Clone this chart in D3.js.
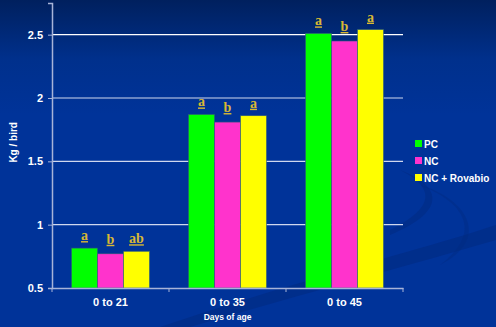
<!DOCTYPE html>
<html>
<head>
<meta charset="utf-8">
<script src="https://cdn.jsdelivr.net/npm/d3@7"></script>
<style>
  body { margin: 0; background: #003399; }
  svg { display: block; }
</style>
</head>
<body>
<div id="chart"></div>
<script>
// data
var periods = ["0 to 21", "0 to 35", "0 to 45"];
var treatments = ["PC", "NC", "NC + Rovabio"];
var pcValues = [0.815, 1.87, 2.51];
var ncValues = [0.77, 1.81, 2.45];
var rovabioValues = [0.79, 1.86, 2.54];
var letters = [["a", "b", "ab"], ["a", "b", "a"], ["a", "b", "a"]];
var yTicks = [0.5, 1, 1.5, 2, 2.5];

var colors = ["#00ff00", "#ff33cc", "#ffff00"];

var W = 496, H = 327;
var margin = {top: 3, left: 52, right: 93, bottom: 39};
var width = W - margin.left - margin.right,
    height = H - margin.top - margin.bottom;

var svg = d3.select("#chart").append("svg")
    .attr("width", W)
    .attr("height", H);

// background
var defs = svg.append("defs");
var grad = defs.append("linearGradient")
    .attr("id", "bg").attr("x1", 0).attr("y1", 0).attr("x2", 0).attr("y2", 1);
grad.append("stop").attr("offset", "0%").attr("stop-color", "#00205e");
grad.append("stop").attr("offset", "18%").attr("stop-color", "#00308c");
grad.append("stop").attr("offset", "35%").attr("stop-color", "#003399");
grad.append("stop").attr("offset", "100%").attr("stop-color", "#003399");
svg.append("rect").attr("width", W).attr("height", H).attr("fill", "url(#bg)");

// faint swooshes
svg.append("path")
    .attr("d", "M160,327 C300,280 420,250 496,225 L496,240 C420,262 300,295 190,327 Z")
    .attr("fill", "#002a80").attr("opacity", 0.55);
svg.append("path")
    .attr("d", "M390,230 C430,210 440,190 400,170 C440,185 450,210 390,235 Z")
    .attr("fill", "#002a80").attr("opacity", 0.5);
svg.append("path")
    .attr("d", "M420,185 C470,200 490,240 440,265 C480,235 470,205 420,185 Z")
    .attr("fill", "#002a80").attr("opacity", 0.4);

var g = svg.append("g")
    .attr("transform", "translate(" + margin.left + "," + margin.top + ")");

var x = d3.scaleBand().domain(periods).range([0, width]).paddingInner(0).paddingOuter(0);
var x1 = d3.scaleBand().domain(treatments).range([0, x.bandwidth()]).paddingOuter(0.75).paddingInner(0);
var y = d3.scaleLinear().domain([0.5, 2.75]).range([height, 0]);

// gridlines
g.selectAll(".grid")
    .data(yTicks.filter(function(d) { return d > 0.5; }))
  .enter().append("line")
    .attr("x1", 0).attr("x2", width)
    .attr("y1", function(d) { return y(d); })
    .attr("y2", function(d) { return y(d); })
    .attr("stroke", function(d) { return d == 2.5 ? "#ffffff" : "#d0d8ee"; })
    .attr("stroke-width", 1.2);

// bars
var rows = periods.map(function(p, i) {
  return {period: p, values: [pcValues[i], ncValues[i], rovabioValues[i]], letters: letters[i]};
});

var group = g.selectAll(".grp")
    .data(rows)
  .enter().append("g")
    .attr("transform", function(d) { return "translate(" + x(d.period) + ",0)"; });

group.selectAll("rect")
    .data(function(d) { return d.values.map(function(v, j) { return {name: treatments[j], value: v, j: j}; }); })
  .enter().append("rect")
    .attr("x", function(d) { return x1(d.name); })
    .attr("width", x1.bandwidth())
    .attr("y", function(d) { return y(d.value); })
    .attr("height", function(d) { return height - y(d.value); })
    .attr("fill", function(d) { return colors[d.j]; })
    .attr("stroke", "#2b5a7a")
    .attr("stroke-width", 0.6);

group.selectAll(".lbl")
    .data(function(d) { return d.values.map(function(v, j) { return {name: treatments[j], value: v, letter: d.letters[j], j: j}; }); })
  .enter().append("text")
    .attr("x", function(d) { return x1(d.name) + x1.bandwidth() / 2; })
    .attr("y", function(d) { return y(d.value) - (d.j == 1 ? 10 : 8); })
    .attr("text-anchor", "middle")
    .style("font-family", "'Liberation Serif', 'Times New Roman', serif")
    .style("font-weight", "bold")
    .style("font-size", "14px")
    .style("text-decoration", "underline")
    .attr("fill", "#d8b834")
    .text(function(d) { return d.letter; });

// y axis
var yAxis = g.append("g")
    .call(d3.axisLeft(y).tickValues(yTicks).tickSize(4).tickPadding(5).tickFormat(function(d) { return d; }));
yAxis.select(".domain").attr("stroke", "#a8b4d8").attr("stroke-width", 1.5);
yAxis.selectAll(".tick line").attr("stroke", "#a8b4d8");
yAxis.selectAll("text")
    .attr("fill", "#ffffff")
    .style("font-family", "Arial, 'Liberation Sans', sans-serif")
    .style("font-weight", "bold")
    .style("font-size", "11px");

// x axis
var xAxis = g.append("g")
    .attr("transform", "translate(0," + height + ")")
    .call(d3.axisBottom(x).tickSize(0).tickPadding(10));
xAxis.select(".domain").attr("stroke", "#a8b4d8").attr("stroke-width", 1.5);
xAxis.selectAll("text")
    .attr("fill", "#ffffff")
    .style("font-family", "Arial, 'Liberation Sans', sans-serif")
    .style("font-weight", "bold")
    .style("font-size", "11px");
// category separator ticks
xAxis.selectAll(".sep")
    .data([0, 1, 2, 3])
  .enter().append("line")
    .attr("x1", function(d) { return d * x.step(); })
    .attr("x2", function(d) { return d * x.step(); })
    .attr("y1", 0).attr("y2", 4)
    .attr("stroke", "#a8b4d8");

// axis titles
svg.append("text")
    .attr("transform", "translate(17," + (margin.top + y(1.65)) + ") rotate(-90)")
    .attr("text-anchor", "middle")
    .attr("fill", "#ffffff")
    .style("font-family", "Arial, 'Liberation Sans', sans-serif")
    .style("font-weight", "bold")
    .style("font-size", "10px")
    .text("Kg / bird");

svg.append("text")
    .attr("x", margin.left + width / 2)
    .attr("y", 320)
    .attr("text-anchor", "middle")
    .attr("fill", "#ffffff")
    .style("font-family", "Arial, 'Liberation Sans', sans-serif")
    .style("font-weight", "bold")
    .style("font-size", "8.5px")
    .text("Days of age");

// legend
var legend = svg.selectAll(".legend")
    .data(treatments)
  .enter().append("g")
    .attr("transform", function(d, i) { return "translate(415," + (140 + i * 17) + ")"; });

legend.append("rect")
    .attr("width", 7).attr("height", 7)
    .attr("fill", function(d, i) { return colors[i]; });

legend.append("text")
    .attr("x", 9).attr("y", 7.5)
    .attr("fill", "#ffffff")
    .style("font-family", "Arial, 'Liberation Sans', sans-serif")
    .style("font-weight", "bold")
    .style("font-size", "10px")
    .text(function(d) { return d; });
</script>
</body>
</html>
